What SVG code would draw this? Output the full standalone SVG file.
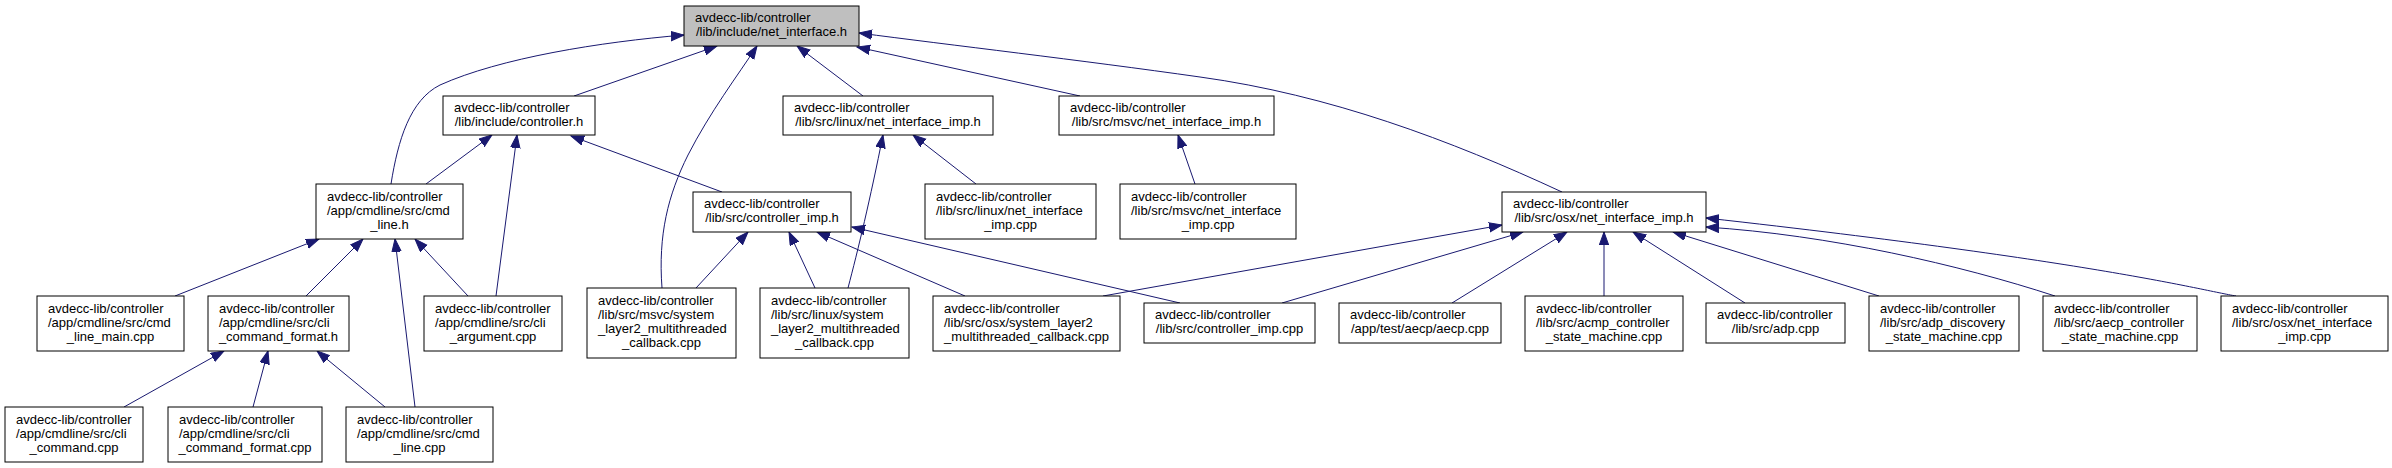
<svg xmlns="http://www.w3.org/2000/svg" width="2392" height="468" viewBox="0 0 2392 468">
<style>
.n rect{fill:#fff;stroke:#000;stroke-width:1}
.n.root rect{fill:#bfbfbf}
.n text{font-family:"Liberation Sans",Arial,sans-serif;font-size:13px;fill:#000}
.n text.c{text-anchor:middle}
#edges path{fill:none;stroke:#191970;stroke-width:1;marker-end:url(#ah)}
</style>
<defs>
<marker id="ah" markerUnits="userSpaceOnUse" markerWidth="16" markerHeight="12" refX="13" refY="5" orient="auto" viewBox="0 0 16 12">
<path d="M0,0.3 L13,5 L0,9.7 Z" fill="#191970" stroke="#191970" stroke-width="1"/>
</marker>
</defs>
<rect width="2392" height="468" fill="#fff"/>
<g id="edges">
<path d="M391,184 C398,140 410,100 440,85 C500,58 600,42 684,35"/>
<path d="M574,96 L717,46"/>
<path d="M662,288 C658,235 668,195 688,155 C710,112 738,75 757,46"/>
<path d="M863,96 L797,46"/>
<path d="M1080,96 L857,47"/>
<path d="M1562,192 C1450,140 1330,95 1200,77 C1080,60 950,45 859,33"/>
<path d="M426,184 L492,135"/>
<path d="M496,296 L517,135"/>
<path d="M722,192 L571,136"/>
<path d="M848,288 C858,250 870,200 883,135"/>
<path d="M976,184 L913,135"/>
<path d="M1195,184 L1178,135"/>
<path d="M696,288 L748,232"/>
<path d="M815,288 L789,232"/>
<path d="M965,296 L817,232"/>
<path d="M1180,303 L852,227"/>
<path d="M1103,296 L1502,225"/>
<path d="M1282,303 L1523,232"/>
<path d="M1452,303 L1567,232"/>
<path d="M1604,296 L1604,232"/>
<path d="M1745,303 L1633,232"/>
<path d="M1879,296 L1673,232"/>
<path d="M2055,296 C1960,265 1830,235 1706,227"/>
<path d="M2236,296 C2200,290 2100,262 1706,218"/>
<path d="M175,296 L319,239"/>
<path d="M306,296 L363,239"/>
<path d="M415,407 L395,239"/>
<path d="M468,296 L415,239"/>
<path d="M124,407 L224,351"/>
<path d="M253,407 L268,351"/>
<path d="M385,407 L317,351"/>
</g>
<g id="net_interface_h" class="n root"><rect x="684" y="6" width="175" height="40"/><text x="695" y="22">avdecc-lib/controller</text><text class="c" x="771.5" y="36">/lib/include/net_interface.h</text></g>
<g id="controller_h" class="n"><rect x="443" y="96" width="152" height="39"/><text x="454" y="112">avdecc-lib/controller</text><text class="c" x="519" y="126">/lib/include/controller.h</text></g>
<g id="linux_net_interface_imp_h" class="n"><rect x="783" y="96" width="210" height="39"/><text x="794" y="112">avdecc-lib/controller</text><text class="c" x="888" y="126">/lib/src/linux/net_interface_imp.h</text></g>
<g id="msvc_net_interface_imp_h" class="n"><rect x="1059" y="96" width="215" height="39"/><text x="1070" y="112">avdecc-lib/controller</text><text class="c" x="1166.5" y="126">/lib/src/msvc/net_interface_imp.h</text></g>
<g id="cmd_line_h" class="n"><rect x="316" y="184" width="147" height="55"/><text x="327" y="201">avdecc-lib/controller</text><text x="327" y="215">/app/cmdline/src/cmd</text><text class="c" x="389.5" y="229">_line.h</text></g>
<g id="controller_imp_h" class="n"><rect x="693" y="192" width="158" height="40"/><text x="704" y="208">avdecc-lib/controller</text><text class="c" x="772" y="222">/lib/src/controller_imp.h</text></g>
<g id="linux_net_interface_imp_cpp" class="n"><rect x="925" y="184" width="171" height="55"/><text x="936" y="201">avdecc-lib/controller</text><text x="936" y="215">/lib/src/linux/net_interface</text><text class="c" x="1010.5" y="229">_imp.cpp</text></g>
<g id="msvc_net_interface_imp_cpp" class="n"><rect x="1120" y="184" width="176" height="55"/><text x="1131" y="201">avdecc-lib/controller</text><text x="1131" y="215">/lib/src/msvc/net_interface</text><text class="c" x="1208" y="229">_imp.cpp</text></g>
<g id="osx_net_interface_imp_h" class="n"><rect x="1502" y="192" width="204" height="40"/><text x="1513" y="208">avdecc-lib/controller</text><text class="c" x="1604" y="222">/lib/src/osx/net_interface_imp.h</text></g>
<g id="cmd_line_main_cpp" class="n"><rect x="37" y="296" width="147" height="55"/><text x="48" y="313">avdecc-lib/controller</text><text x="48" y="327">/app/cmdline/src/cmd</text><text class="c" x="110.5" y="341">_line_main.cpp</text></g>
<g id="cli_command_format_h" class="n"><rect x="208" y="296" width="141" height="55"/><text x="219" y="313">avdecc-lib/controller</text><text x="219" y="327">/app/cmdline/src/cli</text><text class="c" x="278.5" y="341">_command_format.h</text></g>
<g id="cli_argument_cpp" class="n"><rect x="424" y="296" width="138" height="55"/><text x="435" y="313">avdecc-lib/controller</text><text x="435" y="327">/app/cmdline/src/cli</text><text class="c" x="493" y="341">_argument.cpp</text></g>
<g id="msvc_system_layer2_cpp" class="n"><rect x="587" y="288" width="149" height="70"/><text x="598" y="305">avdecc-lib/controller</text><text x="598" y="319">/lib/src/msvc/system</text><text x="598" y="333">_layer2_multithreaded</text><text class="c" x="661.5" y="347">_callback.cpp</text></g>
<g id="linux_system_layer2_cpp" class="n"><rect x="760" y="288" width="149" height="70"/><text x="771" y="305">avdecc-lib/controller</text><text x="771" y="319">/lib/src/linux/system</text><text x="771" y="333">_layer2_multithreaded</text><text class="c" x="834.5" y="347">_callback.cpp</text></g>
<g id="osx_system_layer2_cpp" class="n"><rect x="933" y="296" width="187" height="55"/><text x="944" y="313">avdecc-lib/controller</text><text x="944" y="327">/lib/src/osx/system_layer2</text><text class="c" x="1026.5" y="341">_multithreaded_callback.cpp</text></g>
<g id="controller_imp_cpp" class="n"><rect x="1144" y="303" width="171" height="40"/><text x="1155" y="319">avdecc-lib/controller</text><text class="c" x="1229.5" y="333">/lib/src/controller_imp.cpp</text></g>
<g id="aecp_cpp" class="n"><rect x="1339" y="303" width="162" height="40"/><text x="1350" y="319">avdecc-lib/controller</text><text class="c" x="1420" y="333">/app/test/aecp/aecp.cpp</text></g>
<g id="acmp_controller_state_machine_cpp" class="n"><rect x="1525" y="296" width="158" height="55"/><text x="1536" y="313">avdecc-lib/controller</text><text x="1536" y="327">/lib/src/acmp_controller</text><text class="c" x="1604" y="341">_state_machine.cpp</text></g>
<g id="adp_cpp" class="n"><rect x="1706" y="303" width="139" height="40"/><text x="1717" y="319">avdecc-lib/controller</text><text class="c" x="1775.5" y="333">/lib/src/adp.cpp</text></g>
<g id="adp_discovery_state_machine_cpp" class="n"><rect x="1869" y="296" width="150" height="55"/><text x="1880" y="313">avdecc-lib/controller</text><text x="1880" y="327">/lib/src/adp_discovery</text><text class="c" x="1944" y="341">_state_machine.cpp</text></g>
<g id="aecp_controller_state_machine_cpp" class="n"><rect x="2043" y="296" width="154" height="55"/><text x="2054" y="313">avdecc-lib/controller</text><text x="2054" y="327">/lib/src/aecp_controller</text><text class="c" x="2120" y="341">_state_machine.cpp</text></g>
<g id="osx_net_interface_imp_cpp" class="n"><rect x="2221" y="296" width="167" height="55"/><text x="2232" y="313">avdecc-lib/controller</text><text x="2232" y="327">/lib/src/osx/net_interface</text><text class="c" x="2304.5" y="341">_imp.cpp</text></g>
<g id="cli_command_cpp" class="n"><rect x="5" y="407" width="138" height="55"/><text x="16" y="424">avdecc-lib/controller</text><text x="16" y="438">/app/cmdline/src/cli</text><text class="c" x="74" y="452">_command.cpp</text></g>
<g id="cli_command_format_cpp" class="n"><rect x="168" y="407" width="154" height="55"/><text x="179" y="424">avdecc-lib/controller</text><text x="179" y="438">/app/cmdline/src/cli</text><text class="c" x="245" y="452">_command_format.cpp</text></g>
<g id="cmd_line_cpp" class="n"><rect x="346" y="407" width="147" height="55"/><text x="357" y="424">avdecc-lib/controller</text><text x="357" y="438">/app/cmdline/src/cmd</text><text class="c" x="419.5" y="452">_line.cpp</text></g>
</svg>
